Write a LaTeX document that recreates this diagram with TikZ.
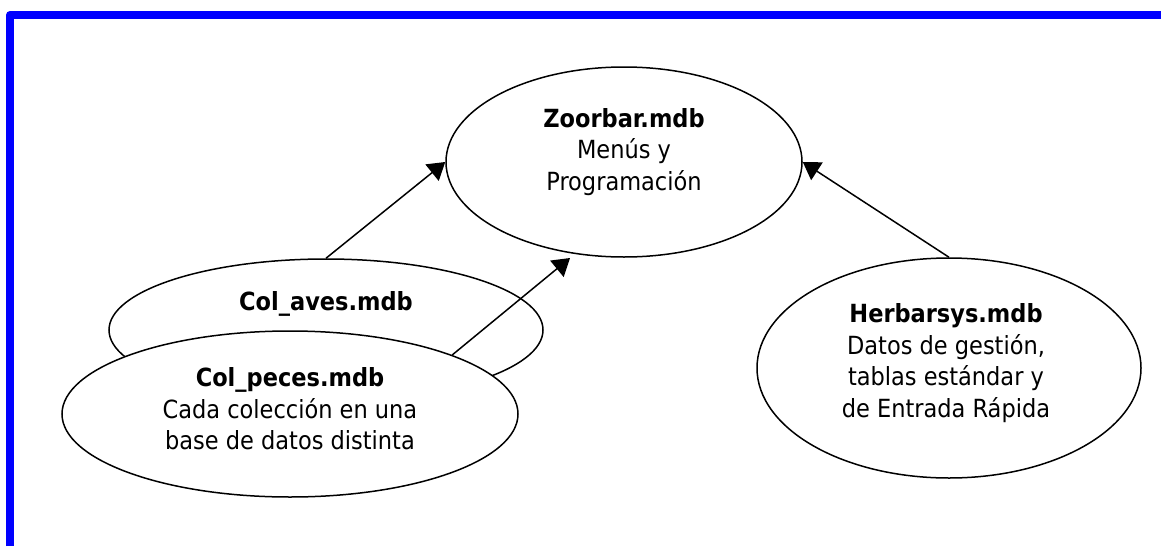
\documentclass[tikz,border=0pt]{standalone}
\usepackage{fontspec}
\setmainfont{DejaVu Sans Condensed}
\usetikzlibrary{arrows.meta, shapes.geometric}

\begin{document}
\begin{tikzpicture}[x=1pt, y=-1pt]
        \tikzset{db/.style={ellipse, draw, line width=1.5pt, fill=white, inner sep=0pt},
            dbtext/.style={align=center, font=\fontsize{25}{31.5}\selectfont},
            link/.style={line width=1.5pt, -{Triangle[length=17pt, width=21pt]}}}

        \useasboundingbox (0, 0) rectangle (1161, 546);
        \draw[blue, line width=8pt, line join=round] (10, 546) -- (10, 15) -- (1161, 15);

        \node[db, minimum width=356pt, minimum height=190pt] (zoorbar) at (624, 162) {};
        \node[db, minimum width=434pt, minimum height=142pt] (colaves) at (326, 330) {};
        \node[db, minimum width=456pt, minimum height=166pt] (colpeces) at (290, 414) {};
        \node[db, minimum width=384pt, minimum height=220pt] (herbarsys) at (949, 368) {};

        \node[dbtext] (zoorbar-txt) at (624, 152)
            {\textbf{Zoorbar.mdb}\\Menús y\\Programación};
        \node[dbtext] (colaves-txt) at (326, 304) {\textbf{Col\_aves.mdb}};
        \node[dbtext] (colpeces-txt) at (290, 409)
            {\textbf{Col\_peces.mdb}\\Cada colección en una\\base de datos distinta};
        \node[dbtext] (herbarsys-txt) at (946, 363)
            {\textbf{Herbarsys.mdb}\\Datos de gestión,\\tablas estándar y\\de Entrada Rápida};

        \coordinate (pecestip) at (570, 258);

        \draw[link] (colaves.north) -- (zoorbar.west);
        \draw[link] (colpeces.20) -- (pecestip);
        \draw[link] (herbarsys.north) -- (zoorbar.east);

    \end{tikzpicture}
\end{document}
